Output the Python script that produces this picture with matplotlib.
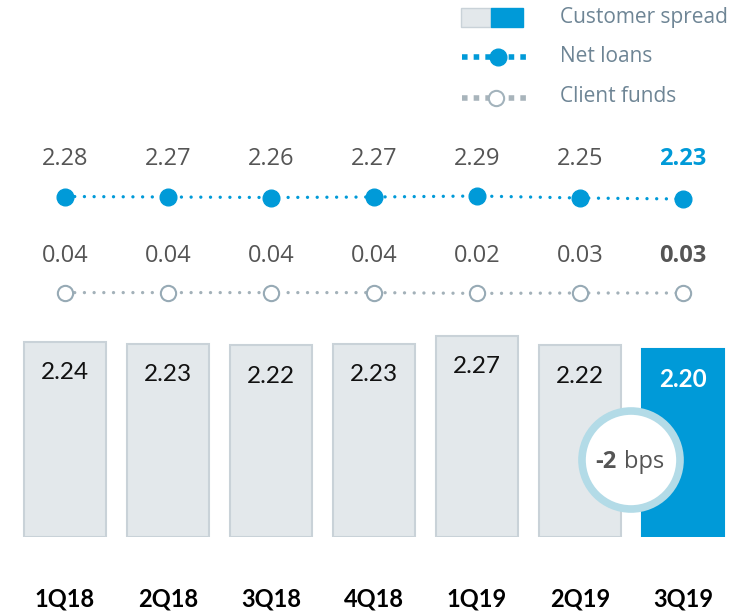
import matplotlib.pyplot as plt
from matplotlib.patches import Circle, Rectangle
from matplotlib.lines import Line2D

quarters = ['1Q18', '2Q18', '3Q18', '4Q18', '1Q19', '2Q19', '3Q19']
customer_spread = [2.24, 2.23, 2.22, 2.23, 2.27, 2.22, 2.20]
net_loans = [2.28, 2.27, 2.26, 2.27, 2.29, 2.25, 2.23]
client_funds = [0.04, 0.04, 0.04, 0.04, 0.02, 0.03, 0.03]
change_bps = -2

BLUE = '#009ad8'
GREY_FILL = '#e3e8eb'
GREY_EDGE = '#c9d2d8'
TXT = '#555555'
LEG_TXT = '#6e8595'

W, H = 751, 613
fig = plt.figure(figsize=(W / 100, H / 100), dpi=100)

# x scale shared by all rows: category i centred at 65 + 103*i px
xlim = (-65 / 103, 6 + (W - 683) / 103)
x = list(range(len(quarters)))


def px_axes(top, bottom):
    # axes spanning full width between two pixel rows (measured from the top)
    ax = fig.add_axes([0, 1 - bottom / H, 1, (bottom - top) / H])
    ax.set_xlim(*xlim)
    ax.axis('off')
    return ax


# bars
base = 1.19
axb = px_axes(330, 537)
axb.set_ylim(base, base + 207 / 186)
colors = [GREY_FILL] * 6 + [BLUE]
edges = [GREY_EDGE] * 6 + [BLUE]
axb.bar(x, [v - base for v in customer_spread], bottom=base, width=0.796,
        color=colors, edgecolor=edges, linewidth=1.5)
for i, v in enumerate(customer_spread):
    last = i == len(customer_spread) - 1
    axb.text(i, v - 0.165, f'{v:.2f}', ha='center', va='center',
             fontsize=17.5, family='Lato', color='white' if last else '#111111',
             fontweight='bold' if last else 'normal')

# change badge
axc = fig.add_axes([0, 0, 1, 1])
axc.set_xlim(0, W)
axc.set_ylim(H, 0)
axc.axis('off')
axc.add_patch(Circle((631, 460), 49, facecolor='white', edgecolor='#b3dbe7',
                     linewidth=5.5))
axc.text(617, 462, f'{change_bps}', ha='right', va='center', fontsize=17,
         family='Open Sans', fontweight='bold', color=TXT)
axc.text(624, 462, 'bps', ha='left', va='center', fontsize=17,
         family='Open Sans', color=TXT)

dots = (0, (0.01, 2.9))

# net loans row
axn = px_axes(175, 215)
axn.set_ylim(1.91, 2.71)
axn.plot(x, net_loans, linestyle=dots, color=BLUE, linewidth=2.4,
         marker='o', markersize=12, markerfacecolor=BLUE, markeredgecolor=BLUE,
         dash_capstyle='round', clip_on=False)
for i, v in enumerate(net_loans):
    last = i == len(net_loans) - 1
    axc.text(65 + 103 * i, 159, f'{v:.2f}', ha='center', va='center',
             fontsize=17, family='Open Sans',
             color=BLUE if last else TXT,
             fontweight='bold' if last else 'normal')

# client funds row
axf = px_axes(273, 313)
axf.set_ylim(-0.47, 0.53)
axf.plot(x, client_funds, linestyle=dots, color='#a3b1b9',
         linewidth=2.4, marker='o', markersize=11, markerfacecolor='white',
         markeredgecolor='#97aab5', markeredgewidth=1.5,
         dash_capstyle='round', clip_on=False)
for i, v in enumerate(client_funds):
    last = i == len(client_funds) - 1
    axc.text(65 + 103 * i, 256, f'{v:.2f}', ha='center', va='center',
             fontsize=17, family='Open Sans', color=TXT,
             fontweight='bold' if last else 'normal')

# category labels
for i, q in enumerate(quarters):
    axc.text(65 + 103 * i, 599, q, ha='center', va='center', fontsize=17,
             family='Lato', fontweight='bold', color='black')

# legend
axc.add_patch(Rectangle((461, 8), 30, 19, facecolor=GREY_FILL,
                        edgecolor=GREY_EDGE, linewidth=1))
axc.add_patch(Rectangle((491, 8), 32, 19, facecolor=BLUE, edgecolor=BLUE,
                        linewidth=1))
axc.add_line(Line2D([462, 529], [57, 57], linestyle=(0, (1, 1.1)),
                    color=BLUE, linewidth=4))
axc.plot([498], [57], marker='o', markersize=12, color=BLUE)
axc.add_line(Line2D([462, 529], [98, 98], linestyle=(0, (1, 1.1)),
                    color='#a8b4bb', linewidth=4))
axc.plot([496], [98], marker='o', markersize=11, markerfacecolor='white',
         markeredgecolor='#a3b3bc', markeredgewidth=1.5)
for y, label in [(18, 'Customer spread'), (56, 'Net loans'),
                 (97, 'Client funds')]:
    axc.text(560, y, label, ha='left', va='center', fontsize=15,
             family='Open Sans', color=LEG_TXT)

fig.savefig('out.png', dpi=100)
